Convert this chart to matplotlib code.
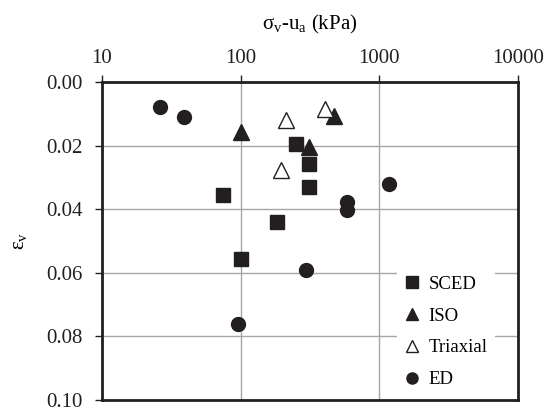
import matplotlib
matplotlib.use("Agg")
import matplotlib.pyplot as plt

# --- Data
sced_x = [75, 100, 184, 250, 310, 310]
sced_y = [0.0356, 0.0558, 0.0441, 0.0194, 0.0259, 0.0329]

iso_x = [100, 310, 474]
iso_y = [0.0156, 0.0205, 0.0106]

triax_x = [195, 211, 409]
triax_y = [0.0277, 0.0120, 0.0086]

ed_x = [26, 39, 95, 295, 589, 589, 1167]
ed_y = [0.0078, 0.0109, 0.0762, 0.0591, 0.0376, 0.0403, 0.0321]

x_ticks = [10, 100, 1000, 10000]
x_tick_labels = ['10', '100', '1000', '10000']
y_ticks = [0.00, 0.02, 0.04, 0.06, 0.08, 0.10]

# --- Plot setup
plt.rcParams.update({
    'font.family': ['Liberation Serif', 'DejaVu Serif'],
    'mathtext.fontset': 'custom',
    'mathtext.rm': 'Liberation Serif',
    'mathtext.it': 'Liberation Serif:italic',
})
FS = 15
LEG_FS = 13.5

fig = plt.figure(figsize=(5.52, 4.07), dpi=100)
ax = fig.add_axes([102 / 552, 1 - 400 / 407, 416 / 552, 318 / 407])

dark = '#231f20'
ax.plot(sced_x, sced_y, ls='', marker='s', ms=10, color=dark, label='SCED', zorder=3)
ax.plot(iso_x, iso_y, ls='', marker='^', ms=11, color=dark, label='ISO', zorder=3)
ax.plot(triax_x, triax_y, ls='', marker='^', ms=11, mfc='white', mec=dark,
        mew=1.0, label='Triaxial', zorder=3)
ax.plot(ed_x, ed_y, ls='', marker='o', ms=10, color=dark, label='ED', zorder=3)

ax.set_xscale('log')
ax.set_xlim(10, 10000)
ax.set_ylim(0.10, 0.00)
ax.set_xticks(x_ticks)
ax.set_xticklabels(x_tick_labels)
ax.minorticks_off()
ax.set_yticks(y_ticks)
ax.set_yticklabels([f'{v:.2f}' for v in y_ticks])

ax.xaxis.set_ticks_position('top')
ax.xaxis.set_label_position('top')
ax.tick_params(axis='x', direction='out', length=5, width=1, pad=5,
               labelsize=FS, colors=dark)
ax.tick_params(axis='y', direction='out', length=5, width=1, pad=9,
               labelsize=FS, colors=dark)

ax.grid(True, color='#a6a6a6', lw=1)
ax.set_axisbelow(True)
for s in ax.spines.values():
    s.set_linewidth(2)
    s.set_color(dark)

ax.set_xlabel(r'σ$_\mathregular{v}$-u$_\mathregular{a}$ (kPa)', fontsize=FS, labelpad=14)
ax.set_ylabel(r'ε$_\mathregular{v}$', fontsize=FS, labelpad=12)

leg = ax.legend(loc='lower right', bbox_to_anchor=(0.9447, 0.0134),
                fontsize=LEG_FS, markerscale=0.8,
                frameon=True, facecolor='white', edgecolor='none', framealpha=1,
                handlelength=0.8, handletextpad=0.5, labelspacing=0.78,
                borderaxespad=0.0, fancybox=False)

fig.savefig('out.png', dpi=100)
